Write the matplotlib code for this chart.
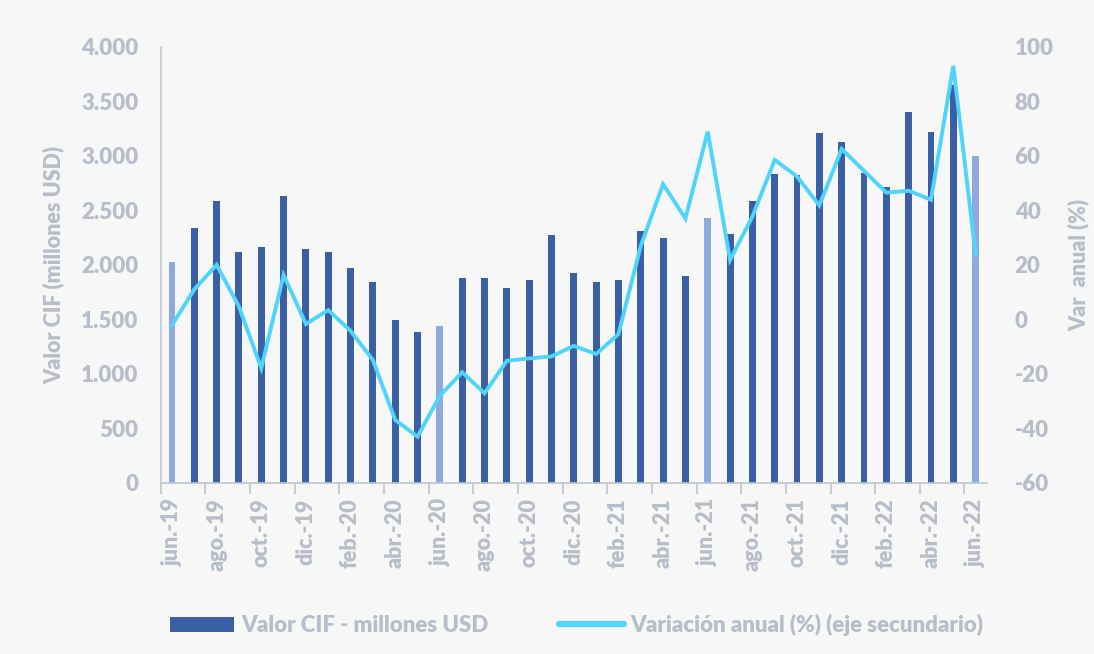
import matplotlib
matplotlib.use('Agg')
import matplotlib.pyplot as plt
from matplotlib.patches import Patch
from matplotlib.lines import Line2D

# data (jun-19 .. jun-22)
meses = ['jun.', 'jul.', 'ago.', 'sep.', 'oct.', 'nov.', 'dic.',
         'ene.', 'feb.', 'mar.', 'abr.', 'may.']
anios_ini = 2019
valor_cif = [2030, 2342, 2584, 2116, 2168, 2633, 2141, 2119, 1972, 1841, 1498, 1388,
             1440, 1883, 1878, 1789, 1862, 2272, 1930, 1844, 1859, 2312, 2242, 1899,
             2431, 2284, 2587, 2829, 2826, 3208, 3125, 2844, 2716, 3401, 3214, 3651,
             3000]
var_anual = [-2.1, 11, 20, 4.7, -17.9, 16.3, -1.7, 3.4, -4.2, -14.9, -36.9, -43,
             -28, -19.4, -27.1, -15.2, -14.3, -13.6, -9.7, -12.7, -5.4, 27, 49.6, 37,
             68.9, 21.8, 37.7, 58.5, 52.4, 41.8, 62.5, 54.5, 46.5, 47.2, 43.9, 93,
             23.7]

etiquetas = []
for i in range(len(valor_cif)):
    m = meses[i % 12]
    a = anios_ini + (i + 5) // 12
    etiquetas.append('%s-%02d' % (m, a % 100))

gris = '#B7BEC9'
azul = '#3A5FA5'
azul_claro = '#8EA9DB'
cian = '#4FD4FB'
fondo = '#F7F7F7'

plt.rcParams['font.family'] = ['Lato', 'DejaVu Sans']
plt.rcParams['font.weight'] = 'heavy'
plt.rcParams['axes.unicode_minus'] = False

fig = plt.figure(figsize=(10.94, 6.54), dpi=100, facecolor=fondo)
ax = fig.add_axes([0.147, 0.2615, 0.755, 0.667])
ax.set_facecolor(fondo)

x = list(range(len(valor_cif)))
colores = [azul_claro if e.startswith('jun.') else azul for e in etiquetas]
ax.bar(x, valor_cif, width=0.31, color=colores, zorder=2)

ax.set_xlim(-0.5, len(x) - 0.5)
ax.set_ylim(0, 4000)
ax.set_yticks(range(0, 4001, 500))
ax.set_yticklabels([('{:,}'.format(v)).replace(',', '.') for v in range(0, 4001, 500)])
ax.set_xticks(x[::2])
ax.set_xticklabels(etiquetas[::2], rotation=90)
ax.set_xticks([i - 0.5 for i in range(0, len(x) + 1, 2)], minor=True)
ax.tick_params(axis='x', which='major', length=0, pad=11, labelsize=15.5, labelcolor=gris)
ax.tick_params(axis='x', which='minor', length=8, width=1.2, color='#BFC5CE')
ax.tick_params(axis='y', length=0, pad=16, labelsize=16, labelcolor=gris)
for s in ['top', 'right']:
    ax.spines[s].set_visible(False)
ax.spines['left'].set_color('#C5CAD3')
ax.spines['bottom'].set_color('#BFC5CE')
ax.spines['left'].set_linewidth(1.2)
ax.spines['bottom'].set_linewidth(1.2)
ax.set_ylabel('Valor CIF (millones USD)', fontsize=15.5, color=gris,
              fontweight='heavy', labelpad=12)

ax2 = ax.twinx()
ax2.plot(x, var_anual, color=cian, linewidth=2.8, solid_joinstyle='miter', zorder=3)
ax2.set_ylim(-60, 100)
ax2.set_yticks(range(-60, 101, 20))
for s in ['top', 'right', 'left', 'bottom']:
    ax2.spines[s].set_visible(False)
ax2.tick_params(axis='y', length=0, pad=20, labelsize=16, labelcolor=gris)
ax2.set_ylabel('Var  anual (%)', fontsize=15.5, color=gris, fontweight='heavy', labelpad=10)

handles = [Patch(facecolor=azul, edgecolor='none'),
           Line2D([0], [0], color=cian, linewidth=4.5, solid_capstyle='round')]
leg = fig.legend(handles, ['Valor CIF - millones USD',
                           'Variación anual (%) (eje secundario)'],
                 loc='center', bbox_to_anchor=(0.527, 0.044), ncol=2, frameon=False,
                 handlelength=2.9, handletextpad=0.3, columnspacing=3.2,
                 prop={'family': ['Lato'], 'weight': 'heavy', 'size': 16})
for t in leg.get_texts():
    t.set_color(gris)

fig.savefig('out.png', dpi=100, facecolor=fondo)
